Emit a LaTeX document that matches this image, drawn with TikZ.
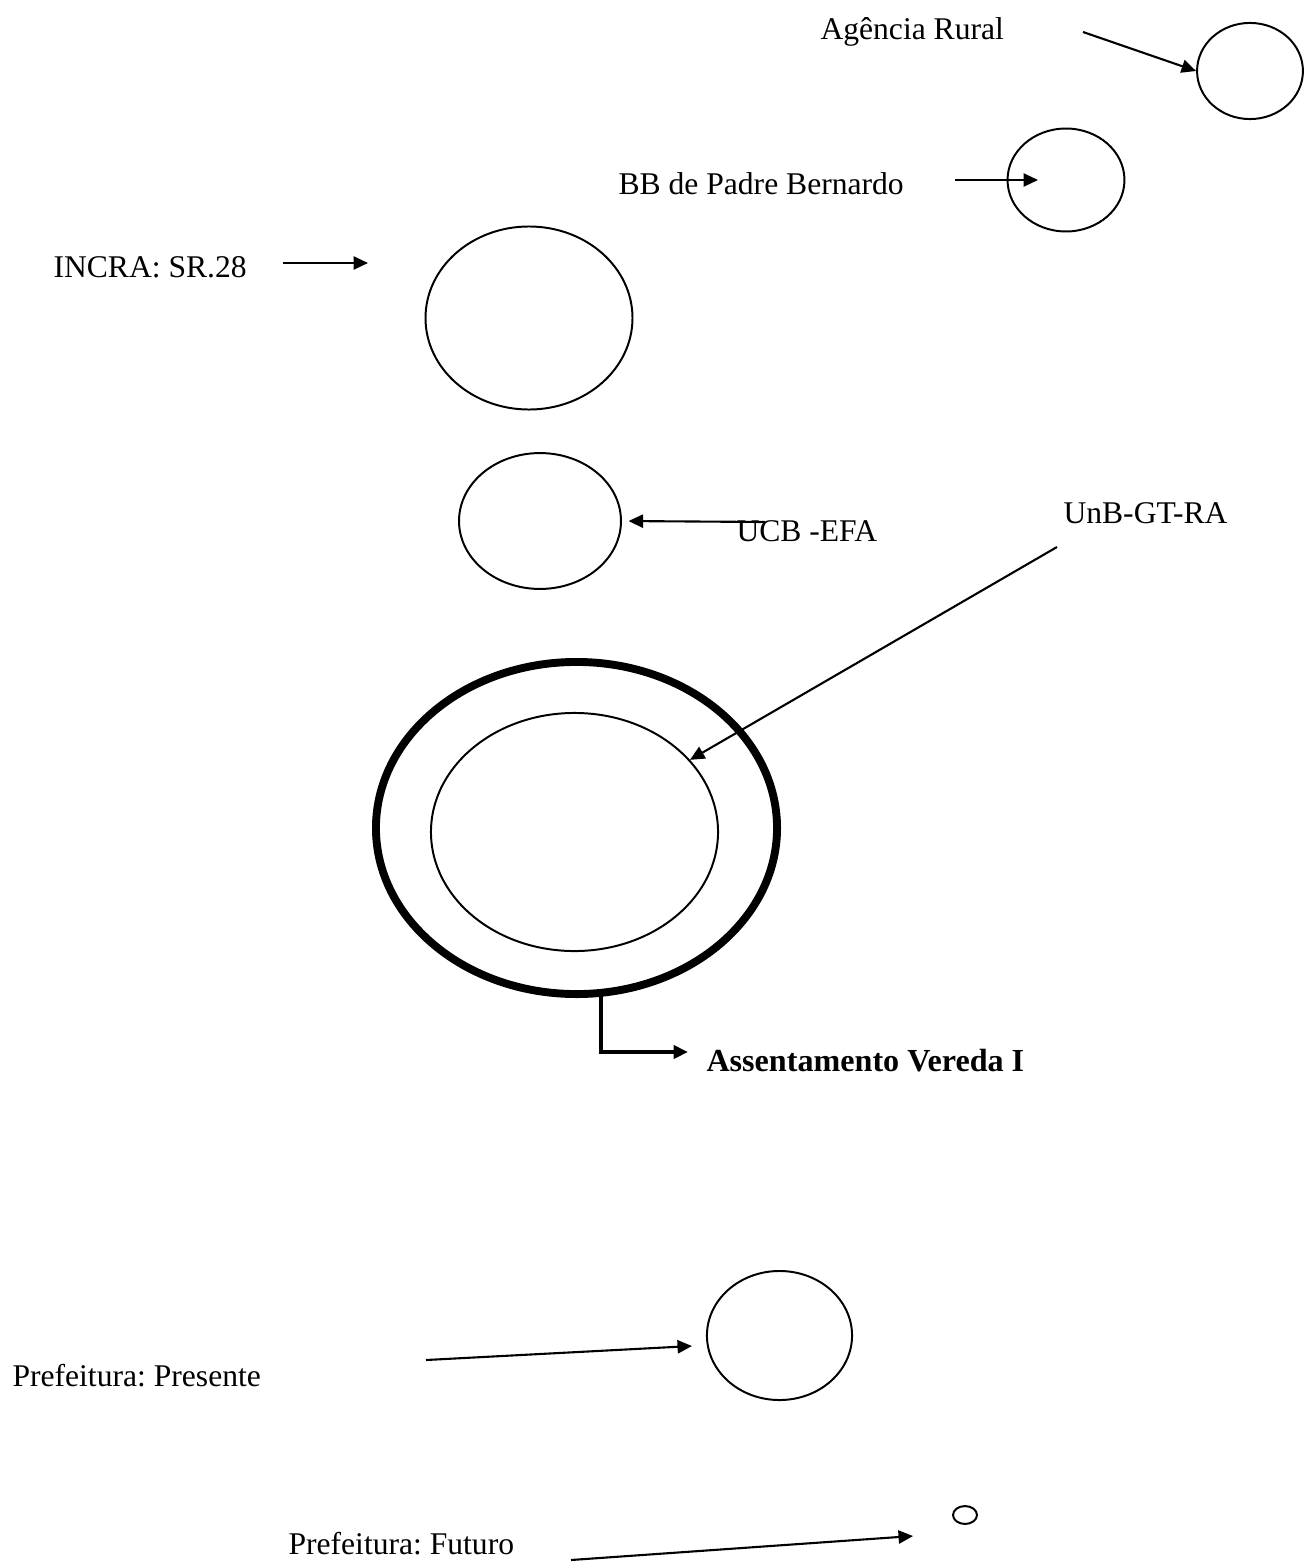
\documentclass[tikz,border=0pt]{standalone}
\usepackage{fontspec}
\setmainfont{Liberation Serif}
\usetikzlibrary{shapes.geometric,arrows.meta,positioning}
\frenchspacing

\begin{document}
\begin{tikzpicture}[
    x=0.3797pt, y=-0.3797pt,
    actor/.style={ellipse, draw, line width=0.75pt, inner sep=0pt},
    txt/.style={anchor=base west, inner sep=0pt, font=\fontsize{12}{14}\selectfont},
    arrow/.style={-{Triangle[length=5.5pt, width=5pt]}, line width=0.8pt}
]
\useasboundingbox (0,0) rectangle (1309,1565);

% Agencia Rural
\node[txt] (agencia) at (820,40) {Agência Rural};
\node[actor, minimum width=40.2pt, minimum height=36.5pt] (agcirc) at (1250,71) {};
\coordinate (agtail) at (1083,32);

% BB de Padre Bernardo
\node[txt] (bb) at (618,194) {BB de Padre Bernardo};
\node[actor, minimum width=44.4pt, minimum height=39.1pt] (bbcirc) at (1066,180) {};
\coordinate (bbtail) at (955,180);
\coordinate (bbhead) at (1038,180);

% INCRA
\node[txt] (incra) at (53,277) {INCRA: SR.28};
\node[actor, minimum width=78.6pt, minimum height=69.5pt] (incracirc) at (529,318) {};
\coordinate (incratail) at (283,263);
\coordinate (incrahead) at (368,263);

% UCB
\node[txt] (ucb) at (736,541) {UCB -EFA};
\node[actor, minimum width=61.5pt, minimum height=51.6pt] (ucbcirc) at (540,521) {};
\coordinate (ucbtail) at (765,522);

% UnB
\node[txt] (unb) at (1063,523) {UnB-GT-RA};
\coordinate (unbtail) at (1057,547);

% Assentamento
\node[actor, line width=3pt, minimum width=152.3pt, minimum height=126.1pt] (outer) at (576.5,828) {};
\node[actor, minimum width=109pt, minimum height=90.4pt] (inner) at (574.5,832) {};
\node[txt, font=\fontsize{12.2}{14}\selectfont\bfseries] (assent) at (706,1071) {Assentamento Vereda I};
\coordinate (asstop) at (601,996);
\coordinate (asshead) at (688,1052);

% Prefeitura
\node[txt] (prespres) at (12,1386) {Prefeitura: Presente};
\node[actor, minimum width=55.1pt, minimum height=49pt] (prescirc) at (779.5,1335.5) {};
\coordinate (prestail) at (426,1360);
\coordinate (preshead) at (692,1346);

\node[txt] (presfut) at (288,1554) {Prefeitura: Futuro};
\node[actor, minimum width=9.1pt, minimum height=6.8pt] (futcirc) at (965,1515) {};
\coordinate (futtail) at (571,1560);
\coordinate (futhead) at (913,1536);

% Arrows
\draw[arrow] (agtail) -- (agcirc.west);
\draw[arrow] (bbtail) -- (bbhead);
\draw[arrow] (incratail) -- (incrahead);
\draw[arrow, shorten >=2.5pt] (ucbtail) -- (ucbcirc.east);
\draw[arrow] (unbtail) -- (inner.32);
\draw[arrow, line width=1.5pt] (asstop) |- (asshead);
\draw[arrow] (prestail) -- (preshead);
\draw[arrow] (futtail) -- (futhead);
\end{tikzpicture}
\end{document}
